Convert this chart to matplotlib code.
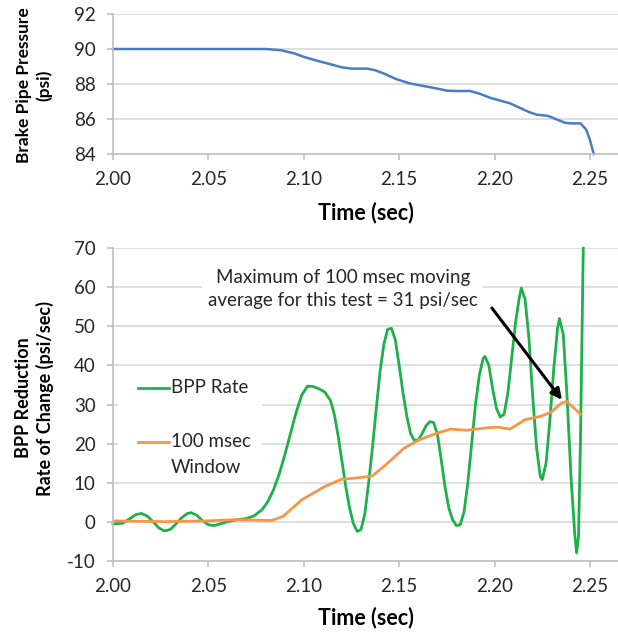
import matplotlib
matplotlib.use("Agg")
import matplotlib.pyplot as plt

plt.rcParams['font.family'] = ['Lato', 'DejaVu Sans']
plt.rcParams['axes.unicode_minus'] = False

# Brake pipe pressure (psi) vs time (sec)
bpp_t = [2.000, 2.080, 2.088, 2.095, 2.100, 2.108, 2.115, 2.120, 2.125, 2.133,
         2.137, 2.142, 2.148, 2.155, 2.162, 2.168, 2.175, 2.180, 2.187, 2.192,
         2.198, 2.203, 2.208, 2.213, 2.218, 2.222, 2.228, 2.232, 2.237, 2.240,
         2.245, 2.248, 2.250, 2.252]
bpp_p = [90.0, 90.0, 89.93, 89.75, 89.55, 89.3, 89.1, 88.95, 88.88, 88.88,
         88.8, 88.6, 88.3, 88.05, 87.9, 87.78, 87.62, 87.6, 87.6, 87.45,
         87.2, 87.05, 86.9, 86.65, 86.4, 86.25, 86.18, 86.0, 85.78, 85.75,
         85.75, 85.4, 84.8, 84.0]

# BPP reduction rate (psi/sec)
rate_t = [2.000, 2.005, 2.009, 2.012, 2.015, 2.018, 2.021, 2.024, 2.027, 2.030,
          2.033, 2.036, 2.039, 2.041, 2.044, 2.047, 2.050, 2.053, 2.056, 2.060,
          2.064, 2.070, 2.074, 2.078, 2.081, 2.084, 2.087, 2.090, 2.093, 2.096,
          2.099, 2.102, 2.105, 2.108, 2.111, 2.114, 2.116, 2.118, 2.120, 2.122,
          2.124, 2.126, 2.128, 2.130, 2.132, 2.134, 2.136, 2.138, 2.140, 2.142,
          2.144, 2.146, 2.148, 2.150, 2.152, 2.154, 2.156, 2.158, 2.160, 2.162,
          2.164, 2.166, 2.168, 2.170, 2.172, 2.174, 2.176, 2.178, 2.180, 2.182,
          2.184, 2.186, 2.188, 2.190, 2.192, 2.194, 2.195, 2.197, 2.199, 2.201,
          2.203, 2.205, 2.207, 2.209, 2.211, 2.213, 2.214, 2.216, 2.218, 2.220,
          2.222, 2.224, 2.225, 2.227, 2.229, 2.231, 2.233, 2.234, 2.236, 2.238,
          2.240, 2.242, 2.243, 2.244, 2.245, 2.2465]
rate_v = [-0.6, -0.4, 0.8, 1.8, 2.1, 1.4, 0.0, -1.6, -2.4, -2.0,
          -0.6, 1.0, 2.1, 2.3, 1.6, 0.2, -0.8, -1.0, -0.6, 0.0,
          0.4, 0.8, 1.5, 3.0, 5.0, 8.0, 12.0, 17.0, 22.5, 28.0,
          32.5, 34.7, 34.6, 34.0, 33.2, 31.0, 27.5, 22.0, 15.5, 9.0,
          3.5, -0.5, -2.5, -2.0, 2.0, 10.0, 19.0, 29.0, 38.5, 45.5,
          49.3, 49.5, 46.5, 40.0, 33.0, 27.0, 22.5, 20.8, 20.9, 22.5,
          24.5, 25.6, 25.4, 22.5, 16.0, 9.0, 3.5, 0.5, -1.0, -0.8,
          2.5, 10.0, 20.0, 30.0, 37.5, 41.8, 42.3, 40.0, 34.0, 29.0,
          26.8, 27.5, 33.0, 42.0, 51.0, 57.5, 59.8, 57.0, 47.0, 32.0,
          19.0, 11.5, 10.8, 15.0, 26.0, 39.0, 49.5, 52.0, 48.0, 32.0,
          12.0, -3.0, -8.0, -4.0, 20.0, 70.0]

# 100 msec moving average window
avg_t = [2.000, 2.027, 2.050, 2.064, 2.083, 2.089, 2.099, 2.111, 2.120, 2.126,
         2.136, 2.144, 2.1525, 2.1607, 2.169, 2.177, 2.185, 2.1956, 2.2018, 2.208,
         2.216, 2.2243, 2.2295, 2.2346, 2.2377, 2.2408, 2.245]
avg_v = [0.2, 0.0, 0.2, 0.5, 0.3, 1.3, 5.6, 9.0, 10.9, 11.1,
         11.7, 15.0, 18.8, 21.0, 22.5, 23.7, 23.4, 24.0, 24.2, 23.7,
         26.1, 27.0, 28.0, 30.2, 30.8, 29.5, 27.5]

x_ticks = [2.00, 2.05, 2.10, 2.15, 2.20, 2.25]
top_yticks = [84, 86, 88, 90, 92]
bot_yticks = [-10, 0, 10, 20, 30, 40, 50, 60, 70]

blue = '#4a7cc6'
green = '#1db04b'
orange = '#f79646'
grid_c = '#d9d9d9'
axis_c = '#bfbfbf'
txt_c = '#262626'

W, H = 618, 632
fig = plt.figure(figsize=(W / 100, H / 100), dpi=100)


def px_axes(x0, x1, ytop, ybot):
    return fig.add_axes([x0 / W, 1 - ybot / H, (x1 - x0) / W, (ybot - ytop) / H])


def style(ax, yticks):
    ax.set_xlim(2.0, 2.2647)
    ax.set_xticks(x_ticks)
    ax.set_xticklabels(['%.2f' % v for v in x_ticks])
    ax.set_yticks(yticks)
    ax.set_ylim(yticks[0], yticks[-1])
    ax.grid(axis='y', color=grid_c, lw=1.2)
    ax.set_axisbelow(True)
    for s in ['top', 'right']:
        ax.spines[s].set_visible(False)
    for s in ['left', 'bottom']:
        ax.spines[s].set_color(axis_c)
        ax.spines[s].set_linewidth(1.2)
    ax.tick_params(length=4.5, width=1.2, color=axis_c, labelsize=13.5,
                   labelcolor=txt_c, pad=8)


# top panel
ax1 = px_axes(113, 618, 14, 154)
style(ax1, top_yticks)
ax1.plot(bpp_t, bpp_p, color=blue, lw=1.8, clip_on=False)
fig.text(366 / W, 1 - 213 / H, 'Time (sec)', ha='center', va='center',
         fontsize=15.5, fontweight='bold', color='black')
fig.text(34 / W, 1 - 85 / H, 'Brake Pipe Pressure\n(psi)', ha='center',
         va='center', rotation=90, fontsize=12.5, fontweight='bold',
         color='black', linespacing=1.3)

# bottom panel
ax2 = px_axes(113, 618, 248.3, 560.7)
style(ax2, bot_yticks)
ax2.plot(rate_t, rate_v, color=green, lw=2.0, clip_on=False)
ax2.plot(avg_t, avg_v, color=orange, lw=2.0)
fig.text(366 / W, 1 - 618 / H, 'Time (sec)', ha='center', va='center',
         fontsize=15.5, fontweight='bold', color='black')
fig.text(34.5 / W, 1 - 398 / H, 'BPP Reduction\nRate of Change (psi/sec)',
         ha='center', va='center', rotation=90, fontsize=13,
         fontweight='bold', color='black', linespacing=1.3)

# legend box drawn by hand to match the original placement
tr = ax2.transAxes
ax2.add_patch(plt.Rectangle((0.01, 0.252), 0.285, 0.352, transform=tr,
                            facecolor='white', edgecolor='none', zorder=3))
ax2.plot([0.0495, 0.111], [0.553, 0.553], color=green, lw=2.0,
         transform=tr, zorder=4)
ax2.text(0.115, 0.553, 'BPP Rate', transform=tr, ha='left', va='center',
         fontsize=13.5, color=txt_c, zorder=4)
ax2.plot([0.0495, 0.111], [0.380, 0.380], color=orange, lw=2.0,
         transform=tr, zorder=4)
ax2.text(0.115, 0.380, '100 msec', transform=tr, ha='left', va='center',
         fontsize=13.5, color=txt_c, zorder=4)
ax2.text(0.115, 0.297, 'Window', transform=tr, ha='left', va='center',
         fontsize=13.5, color=txt_c, zorder=4)

# annotation
ax2.text(2.1205, 59.6, 'Maximum of 100 msec moving\naverage for this test = 31 psi/sec',
         ha='center', va='center', fontsize=13.5, color=txt_c, linespacing=1.4,
         bbox=dict(facecolor='white', edgecolor='none', pad=4), zorder=4)
ax2.annotate('', xy=(2.2353, 31.2), xytext=(2.1986, 54.7),
             arrowprops=dict(arrowstyle='-|>', color='black', lw=2.2,
                             mutation_scale=16, shrinkA=0, shrinkB=0),
             zorder=5)

fig.savefig('out.png', dpi=100)
